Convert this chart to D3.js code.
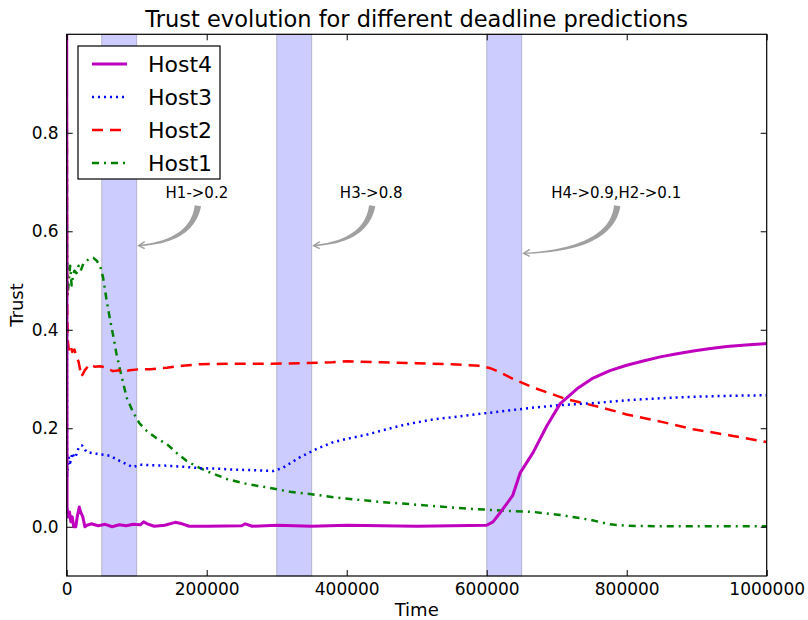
<!DOCTYPE html>
<html>
<head>
<meta charset="utf-8">
<script src="https://cdn.jsdelivr.net/npm/d3@7"></script>
<style>
  body { margin: 0; background: #fff; }
  svg { font-family: "DejaVu Sans", sans-serif; }
</style>
</head>
<body>
<svg id="chart" width="808" height="620"></svg>
<script>
// series data (time, trust)
var host4T = [0, 500, 2000, 4000, 6000, 8000, 10000, 13000, 15000, 18000, 20000, 23000, 26000, 29000, 35000, 45000, 55000, 65000, 75000, 85000, 95000, 105000, 110000, 115000, 125000, 140000, 155000, 165000, 175000, 200000, 250000, 255000, 265000, 300000, 350000, 400000, 450000, 500000, 550000, 600000, 609000, 620000, 637000, 648000, 666000, 686000, 705000, 729000, 752000, 776000, 800000, 825000, 848000, 870000, 895000, 920000, 943000, 970000, 1000000];
var host4V = [1.0, 0.04, 0.02, 0.03, 0.01, 0.02, 0.0, 0.0, 0.02, 0.04, 0.03, 0.02, 0.0, 0.003, 0.006, 0.002, 0.005, 0.0, 0.004, 0.002, 0.005, 0.004, 0.01, 0.006, 0.001, 0.003, 0.009, 0.006, 0.001, 0.001, 0.002, 0.006, 0.001, 0.003, 0.001, 0.003, 0.002, 0.001, 0.002, 0.003, 0.01, 0.03, 0.063, 0.11, 0.15, 0.205, 0.25, 0.28, 0.302, 0.317, 0.328, 0.337, 0.345, 0.351, 0.357, 0.362, 0.366, 0.369, 0.372];

var host3T = [0, 500, 1500, 3000, 5000, 8000, 11000, 14000, 17000, 19000, 22000, 25000, 28000, 31000, 40000, 47600, 55000, 62000, 70000, 81000, 90000, 95000, 100000, 105000, 120000, 143000, 165000, 190000, 215000, 238000, 265000, 295000, 309000, 333000, 357000, 381000, 405000, 428600, 452000, 476000, 500000, 524000, 548000, 571000, 595000, 619000, 643000, 667000, 705000, 762000, 800000, 850000, 895000, 950000, 1000000];
var host3V = [1.0, 0.1, 0.12, 0.14, 0.13, 0.15, 0.14, 0.147, 0.16, 0.164, 0.165, 0.16, 0.152, 0.151, 0.149, 0.147, 0.146, 0.144, 0.138, 0.13, 0.124, 0.121, 0.124, 0.126, 0.125, 0.124, 0.122, 0.119, 0.118, 0.116, 0.115, 0.113, 0.12, 0.141, 0.158, 0.172, 0.18, 0.187, 0.196, 0.205, 0.212, 0.218, 0.222, 0.226, 0.23, 0.234, 0.238, 0.242, 0.247, 0.252, 0.257, 0.261, 0.264, 0.266, 0.267];

var host2T = [0, 500, 1500, 3000, 5000, 8000, 11000, 14000, 17000, 19000, 21000, 23000, 26000, 30000, 33000, 40000, 47600, 55000, 66000, 75000, 81000, 90000, 105000, 120000, 143000, 165000, 190000, 238000, 290000, 333000, 380000, 400000, 450000, 500000, 550000, 590000, 605000, 620000, 638000, 666000, 690000, 714000, 762000, 800000, 850000, 895000, 950000, 1000000];
var host2V = [1.0, 0.46, 0.38, 0.36, 0.37, 0.355, 0.36, 0.345, 0.335, 0.32, 0.305, 0.31, 0.318, 0.325, 0.33, 0.325, 0.326, 0.324, 0.316, 0.318, 0.314, 0.318, 0.32, 0.32, 0.323, 0.327, 0.33, 0.331, 0.331, 0.332, 0.334, 0.336, 0.334, 0.332, 0.33, 0.327, 0.322, 0.313, 0.3, 0.283, 0.271, 0.259, 0.243, 0.228, 0.213, 0.198, 0.185, 0.172];

var host1T = [0, 500, 1500, 3000, 5000, 7000, 9000, 11000, 14000, 17000, 20000, 24000, 28500, 33000, 38000, 43000, 47600, 52000, 57000, 62000, 66600, 71000, 76000, 81000, 85700, 95000, 104000, 114000, 128000, 143000, 157000, 171000, 185000, 200000, 228600, 257000, 285700, 319000, 350000, 381000, 415000, 452000, 490000, 524000, 560000, 595000, 630000, 667000, 705000, 748000, 776000, 800000, 850000, 900000, 1000000];
var host1V = [1.0, 0.58, 0.47, 0.5, 0.53, 0.49, 0.51, 0.52, 0.515, 0.53, 0.52, 0.535, 0.54, 0.545, 0.546, 0.54, 0.53, 0.506, 0.46, 0.42, 0.387, 0.352, 0.32, 0.29, 0.262, 0.232, 0.21, 0.195, 0.18, 0.168, 0.15, 0.134, 0.123, 0.113, 0.097, 0.087, 0.08, 0.071, 0.066, 0.06, 0.055, 0.05, 0.046, 0.042, 0.038, 0.035, 0.032, 0.03, 0.024, 0.014, 0.005, 0.002, 0.001, 0.001, 0.001];

var seriesNames = ["Host4", "Host3", "Host2", "Host1"];

// shaded intervals
var spanStarts = [50000, 300000, 600000];
var spanEnds = [100000, 350000, 650000];

// annotations
var noteLabels = ["H1->0.2", "H3->0.8", "H4->0.9,H2->0.1"];
var noteTextX = [186000, 435000, 785000];
var noteTextY = [0.668, 0.668, 0.668];
var noteArrowX = [100000, 350000, 650000];
var noteArrowY = [0.571, 0.571, 0.555];

var xTicks = [0, 200000, 400000, 600000, 800000, 1000000];
var yTicks = [0.0, 0.2, 0.4, 0.6, 0.8];

var styles = {
    "Host4": {color: "#bf00bf", width: 3, dash: null},
    "Host3": {color: "#0000ff", width: 2.5, dash: "2,4"},
    "Host2": {color: "#ff0000", width: 2.5, dash: "11,7"},
    "Host1": {color: "#008000", width: 2.5, dash: "7,5,2,5"}
};

function draw() {
    var svg = d3.select("#chart");
    var left = 66.7, right = 766.7, top = 34.3, bottom = 576;

    var x = d3.scaleLinear().domain([0, 1000000]).range([left, right]);
    var y = d3.scaleLinear().domain([-0.1, 1.0]).range([bottom, top]);

    // spans
    svg.append("g").selectAll("rect")
        .data(spanStarts)
        .join("rect")
        .attr("x", function(d){ return x(d); })
        .attr("y", top)
        .attr("width", function(d, i){ return x(spanEnds[i]) - x(d); })
        .attr("height", bottom - top)
        .attr("fill", "rgba(0,0,255,0.2)")
        .attr("stroke", "rgba(0,0,0,0.2)")
        .attr("stroke-width", 1);

    var series = [
        {name: "Host1", t: host1T, v: host1V},
        {name: "Host2", t: host2T, v: host2V},
        {name: "Host3", t: host3T, v: host3V},
        {name: "Host4", t: host4T, v: host4V}
    ];

    var line = d3.line()
        .x(function(d){ return x(d[0]); })
        .y(function(d){ return y(d[1]); });

    svg.append("defs").append("clipPath").attr("id", "clip")
        .append("rect").attr("x", left).attr("y", top)
        .attr("width", right - left).attr("height", bottom - top);

    var lines = svg.append("g").attr("clip-path", "url(#clip)");
    series.forEach(function(s){
        var st = styles[s.name];
        var pts = s.t.map(function(t, i){ return [t, s.v[i]]; });
        lines.append("path")
            .datum(pts)
            .attr("d", line)
            .attr("fill", "none")
            .attr("stroke", st.color)
            .attr("stroke-width", st.width)
            .attr("stroke-dasharray", st.dash)
            .attr("stroke-linejoin", "round");
    });

    // axes, ticks pointing inward
    svg.append("g").attr("transform", "translate(0," + bottom + ")")
        .call(d3.axisBottom(x).tickValues(xTicks).tickFormat(d3.format("d")).tickSize(-6).tickSizeOuter(0).tickPadding(7));
    svg.append("g").attr("transform", "translate(0," + top + ")")
        .call(d3.axisTop(x).tickValues(xTicks).tickFormat("").tickSize(-6).tickSizeOuter(0));
    svg.append("g").attr("transform", "translate(" + left + ",0)")
        .call(d3.axisLeft(y).tickValues(yTicks).tickFormat(d3.format(".1f")).tickSize(-6).tickSizeOuter(0).tickPadding(8));
    svg.append("g").attr("transform", "translate(" + right + ",0)")
        .call(d3.axisRight(y).tickValues(yTicks).tickFormat("").tickSize(-6).tickSizeOuter(0));

    svg.selectAll(".domain").remove();
    svg.selectAll(".tick line").attr("stroke", "#000");
    svg.selectAll(".tick text").attr("font-size", 17).attr("fill", "#000")
        .attr("font-family", "DejaVu Sans");

    svg.append("rect")
        .attr("x", left).attr("y", top)
        .attr("width", right - left).attr("height", bottom - top)
        .attr("fill", "none").attr("stroke", "#000").attr("stroke-width", 1.2);

    // annotations with tapered curved arrows
    var notes = svg.append("g");
    noteLabels.forEach(function(label, i){
        var tx = x(noteTextX[i]), ty = y(noteTextY[i]);
        notes.append("text")
            .attr("x", tx).attr("y", ty)
            .attr("text-anchor", "middle")
            .attr("font-size", 15)
            .attr("fill", "#000")
            .text(label);

        var p0 = [tx + 1, ty + 8];
        var p2 = [x(noteArrowX[i]) + 2, y(noteArrowY[i])];
        var p1 = [p0[0] - 6, p2[1] - 4];
        var n = 30, sideA = [], sideB = [];
        for (var k = 0; k <= n; k++) {
            var u = k / n;
            var px = (1-u)*(1-u)*p0[0] + 2*(1-u)*u*p1[0] + u*u*p2[0];
            var py = (1-u)*(1-u)*p0[1] + 2*(1-u)*u*p1[1] + u*u*p2[1];
            var dx = 2*(1-u)*(p1[0]-p0[0]) + 2*u*(p2[0]-p1[0]);
            var dy = 2*(1-u)*(p1[1]-p0[1]) + 2*u*(p2[1]-p1[1]);
            var len = Math.sqrt(dx*dx + dy*dy) || 1;
            var w = 2.6 * (1 - u) + 0.6;
            sideA.push([px - dy/len*w, py + dx/len*w]);
            sideB.push([px + dy/len*w, py - dx/len*w]);
        }
        notes.append("path")
            .attr("d", d3.line()(sideA.concat(sideB.reverse())) + "Z")
            .attr("fill", "#a0a0a0");
        // arrow head
        notes.append("path")
            .attr("d", "M" + (p2[0] + 6) + "," + (p2[1] - 4) + "L" + p2[0] + "," + p2[1] + "L" + (p2[0] + 6) + "," + (p2[1] + 3))
            .attr("fill", "none")
            .attr("stroke", "#a0a0a0")
            .attr("stroke-width", 1.5);
    });

    // legend
    var legend = svg.append("g");
    legend.append("rect")
        .attr("x", 78).attr("y", 46).attr("width", 142).attr("height", 133)
        .attr("fill", "#fff").attr("stroke", "#000").attr("stroke-width", 1.2);
    var rowY = d3.scalePoint().domain(seriesNames).range([64, 163]);
    seriesNames.forEach(function(name){
        var st = styles[name];
        legend.append("line")
            .attr("x1", 92).attr("x2", 127)
            .attr("y1", rowY(name)).attr("y2", rowY(name))
            .attr("stroke", st.color)
            .attr("stroke-width", st.width)
            .attr("stroke-dasharray", st.dash);
        legend.append("text")
            .attr("x", 148).attr("y", rowY(name))
            .attr("dy", "0.36em")
            .attr("font-size", 22)
            .attr("fill", "#000")
            .text(name);
    });

    // title and axis labels
    svg.append("text")
        .attr("x", (left + right) / 2).attr("y", 27)
        .attr("text-anchor", "middle")
        .attr("font-size", 22.5)
        .text("Trust evolution for different deadline predictions");
    svg.append("text")
        .attr("x", (left + right) / 2).attr("y", 616)
        .attr("text-anchor", "middle")
        .attr("font-size", 18)
        .text("Time");
    svg.append("text")
        .attr("transform", "translate(23,305) rotate(-90)")
        .attr("text-anchor", "middle")
        .attr("font-size", 18)
        .text("Trust");
}

window.addEventListener("load", function() {
    draw();
});
</script>
</body>
</html>
